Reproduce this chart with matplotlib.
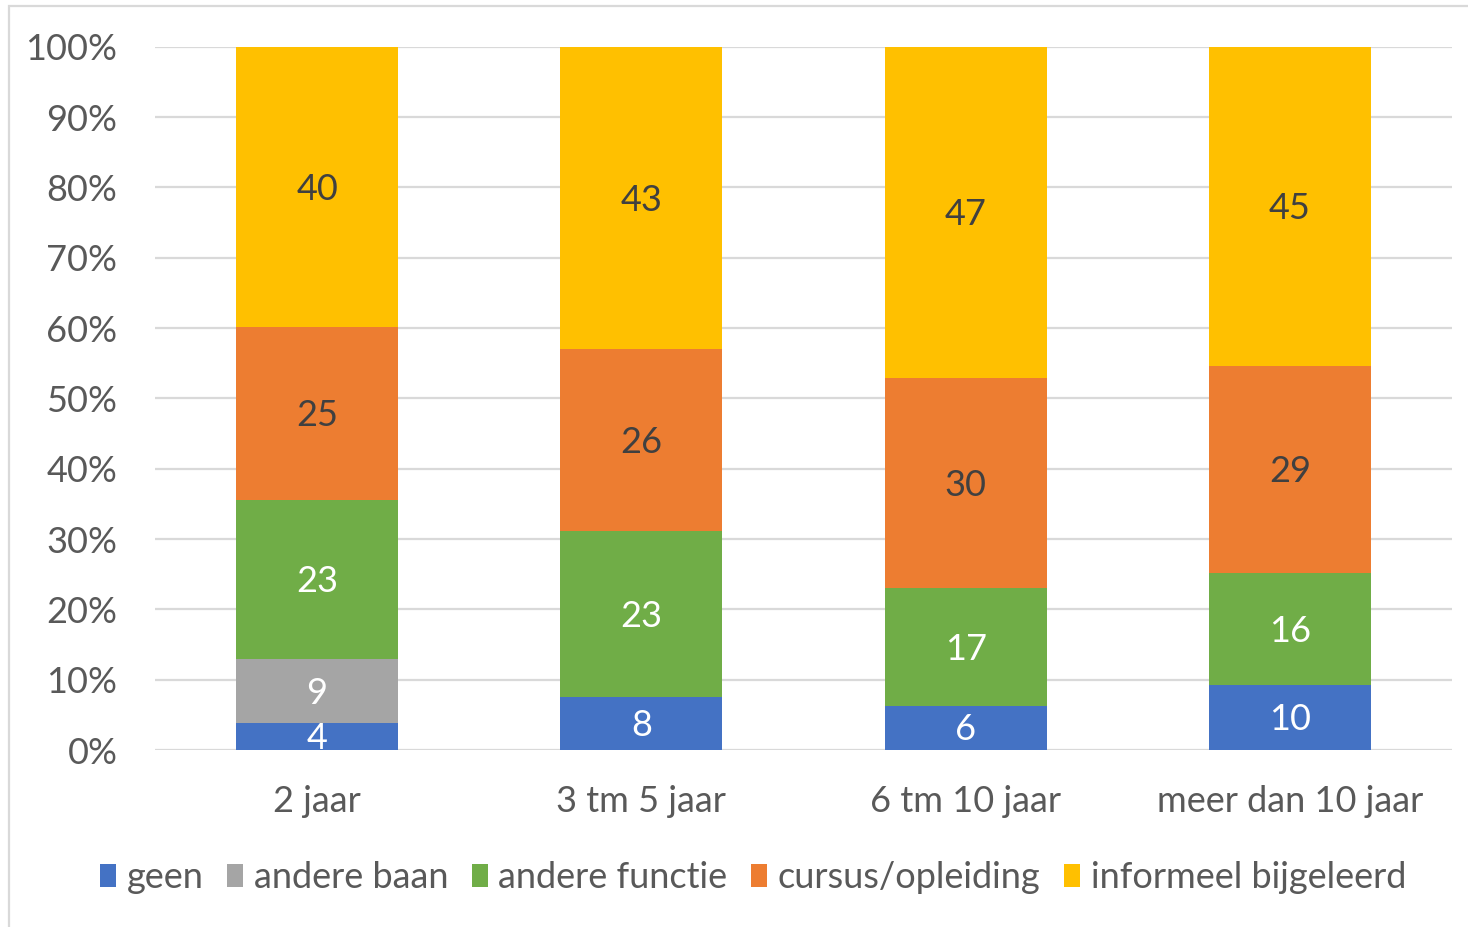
import numpy as np
import matplotlib.pyplot as plt
from matplotlib.patches import Rectangle

plt.rcParams['font.family'] = ['Lato', 'DejaVu Sans']

categories = ['2 jaar', '3 tm 5 jaar', '6 tm 10 jaar', 'meer dan 10 jaar']
series = ['geen', 'andere baan', 'andere functie', 'cursus/opleiding', 'informeel bijgeleerd']

# segment shares (%)
geen = [3.8, 7.5, 6.3, 9.3]
andere_baan = [9.1, 0.0, 0.0, 0.0]
andere_functie = [22.6, 23.6, 16.7, 15.8]
cursus = [24.6, 25.9, 29.9, 29.5]
informeel = [39.9, 43.0, 47.1, 45.4]

# numbers printed in the bars
lbl_geen = [4, 8, 6, 10]
lbl_baan = [9, None, None, None]
lbl_functie = [23, 23, 17, 16]
lbl_cursus = [25, 26, 30, 29]
lbl_informeel = [40, 43, 47, 45]

colors = ['#4472C4', '#A5A5A5', '#70AD47', '#ED7D31', '#FFC000']
text_colors = ['white', 'white', 'white', '#404040', '#404040']

data = np.array([geen, andere_baan, andere_functie, cursus, informeel])
labels = [lbl_geen, lbl_baan, lbl_functie, lbl_cursus, lbl_informeel]
shares = data / data.sum(axis=0) * 100

fs = 26

fig = plt.figure(figsize=(14.68, 9.27), dpi=100)
ax = fig.add_axes([155/1468, 1-750/927, (1452-155)/1468, (750-46.7)/927])

x = np.arange(len(categories))
bottom = np.zeros(len(categories))
for i, name in enumerate(series):
	ax.bar(x, shares[i], 0.5, bottom=bottom, color=colors[i], label=name, zorder=3)
	for j in range(len(categories)):
		if labels[i][j] is not None and shares[i][j] > 0:
			ax.text(x[j], bottom[j] + shares[i][j]/2 - 0.3, str(labels[i][j]),
				ha='center', va='center', fontsize=fs, color=text_colors[i], zorder=4)
	bottom += shares[i]

ax.set_xlim(-0.5, 3.5)
ax.set_ylim(0, 100)
ax.set_yticks(np.arange(0, 101, 10))
ax.set_yticklabels(['%d%%' % v for v in range(0, 101, 10)])
ax.set_xticks(x)
ax.set_xticklabels(categories)
ax.tick_params(axis='both', length=0, labelsize=fs, labelcolor='#595959')
ax.tick_params(axis='y', pad=27)
ax.tick_params(axis='x', pad=25)
ax.grid(axis='y', color='#D9D9D9', linewidth=1.6, zorder=0)
for s in ax.spines.values():
	s.set_visible(False)

fig.legend(loc='center', bbox_to_anchor=(753/1468, 1-878/927), ncol=5, frameon=False,
	fontsize=fs, labelcolor='#595959', handlelength=0.44, handleheight=0.61,
	handletextpad=0.3, columnspacing=0.65, borderaxespad=0)

fig.patches.append(Rectangle((9/1468, -0.05), 1.1, 1 - 6/927 + 0.05, transform=fig.transFigure,
	fill=False, edgecolor='#D9D9D9', linewidth=1.6))

fig.savefig('out.png', dpi=100)
